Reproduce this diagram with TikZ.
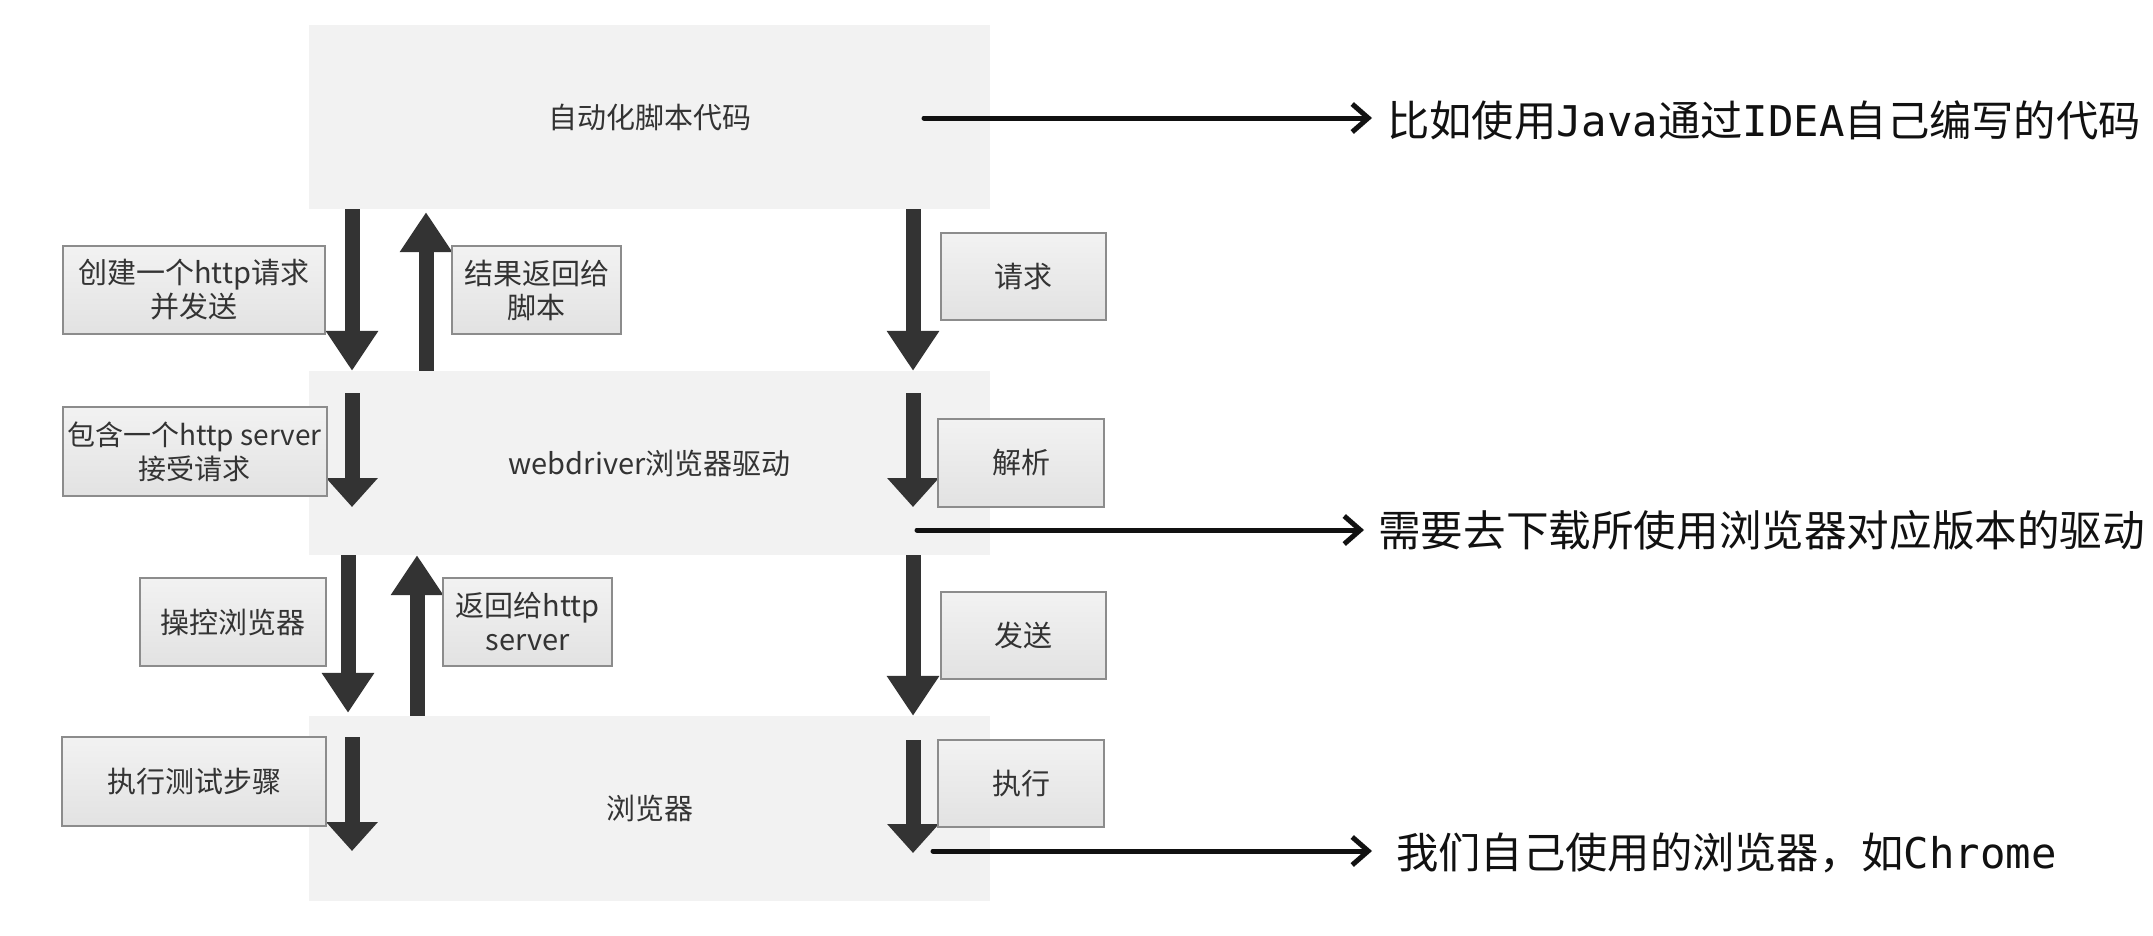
\documentclass[tikz,border=0pt]{standalone}
\usepackage{fontspec}
\setmainfont{Noto Sans CJK SC}
\newfontfamily\monofont{DejaVu Sans Mono}
\usetikzlibrary{arrows.meta}
\definecolor{boxgrey}{HTML}{F2F2F2}
\definecolor{txtgrey}{HTML}{333333}
\definecolor{arrgrey}{HTML}{333333}
\definecolor{lblborder}{HTML}{8C8C8C}
\definecolor{lbltop}{HTML}{F2F2F2}
\definecolor{lblbot}{HTML}{E2E2E2}
\definecolor{note}{HTML}{111111}
\begin{document}
\begin{tikzpicture}[x=1pt,y=-1pt,
  bigbox/.style={fill=boxgrey, draw=none, minimum width=681pt, inner sep=0pt,
    font=\fontsize{29}{34}\selectfont, text=txtgrey},
  lbl/.style={draw=lblborder, line width=2pt, top color=lbltop, bottom color=lblbot,
    inner sep=0pt, align=center, font=\fontsize{29}{34}\selectfont, text=txtgrey},
  fat/.style={draw=arrgrey, line width=15pt, -{Triangle[length=40pt,width=50pt]}},
  fatshort/.style={draw=arrgrey, line width=15pt, -{Triangle[length=29pt,width=50pt]}},
  thinarr/.style={draw=note, line width=5pt, line cap=round, -{Straight Barb[length=16pt,width=28pt]}},
  notetxt/.style={inner sep=0pt, anchor=west, text=note, font=\fontsize{42.3}{50}\selectfont}
]
\useasboundingbox[fill=white] (0,0) rectangle (2153,935);

% main grey boxes
\node[bigbox, minimum height=184pt] (b1) at (649.5,117) {自动化脚本代码};
\node[bigbox, minimum height=184pt] (b2) at (649.5,463) {webdriver浏览器驱动};
\node[bigbox, minimum height=185pt] (b3) at (649.5,808.5) {浏览器};

% column coordinates
\coordinate (xL1) at (352,0);
\coordinate (xU1) at (426,0);
\coordinate (xR) at (913,0);
\coordinate (xL2) at (348,0);
\coordinate (xU2) at (417,0);

% fat arrows between boxes
\draw[fat] (b1.south -| xL1) -- (b2.north -| xL1);
\draw[fat] (b2.north -| xU1) -- ([yshift=-3pt]b1.south -| xU1);
\draw[fat] (b1.south -| xR) -- (b2.north -| xR);
\draw[fat] (b2.south -| xL2) -- ([yshift=3pt]b3.north -| xL2);
\draw[fat] (b3.north -| xU2) -- (b2.south -| xU2);
\draw[fat] (b2.south -| xR) -- (b3.north -| xR);

% fat arrows inside boxes
\coordinate (i1s) at (352,393); \coordinate (i1e) at (352,507);
\coordinate (i2s) at (913,393); \coordinate (i2e) at (913,507);
\coordinate (i3s) at (352,737); \coordinate (i3e) at (352,851);
\coordinate (i4s) at (913,740); \coordinate (i4e) at (913,853);
\draw[fatshort] (i1s) -- (i1e);
\draw[fatshort] (i2s) -- (i2e);
\draw[fatshort] (i3s) -- (i3e);
\draw[fatshort] (i4s) -- (i4e);

% label boxes
\node[lbl, minimum width=262pt, minimum height=88pt] (l1) at (193.75,290) {创建一个http请求\\并发送};
\node[lbl, minimum width=169pt, minimum height=88pt] (l2) at (536.5,290) {结果返回给\\脚本};
\node[lbl, minimum width=165pt, minimum height=87pt] (l3) at (1023.5,276.5) {请求};
\node[lbl, minimum width=264pt, minimum height=89pt, font=\fontsize{28}{34}\selectfont] (l4) at (194.5,451.5) {包含一个http server\\接受请求};
\node[lbl, minimum width=166pt, minimum height=88pt] (l5) at (1021,463) {解析};
\node[lbl, minimum width=186pt, minimum height=88pt] (l6) at (233,622) {操控浏览器};
\node[lbl, minimum width=169pt, minimum height=88pt] (l7) at (527.5,622) {返回给http\\server};
\node[lbl, minimum width=165pt, minimum height=87pt] (l8) at (1023.5,635.5) {发送};
\node[lbl, minimum width=264pt, minimum height=89pt] (l9) at (194,781.5) {执行测试步骤};
\node[lbl, minimum width=166pt, minimum height=87pt] (l10) at (1021,783.5) {执行};

% notes on the right
\node[notetxt] (n1) at (1387,120) {比如使用{\monofont Java}通过{\monofont IDEA}自己编写的代码};
\node[notetxt, font=\fontsize{42.6}{50}\selectfont] (n2) at (1378,530) {需要去下载所使用浏览器对应版本的驱动};
\node[notetxt] (n3) at (1396,853) {我们自己使用的浏览器，如{\monofont Chrome}};

\coordinate (s1) at (924,118);
\coordinate (s2) at (917,530);
\coordinate (s3) at (933,851);
\draw[thinarr] (s1) -- ([xshift=-15pt]n1.west |- s1);
\draw[thinarr] (s2) -- ([xshift=-14pt]n2.west |- s2);
\draw[thinarr] (s3) -- ([xshift=-24pt]n3.west |- s3);
\end{tikzpicture}
\end{document}
